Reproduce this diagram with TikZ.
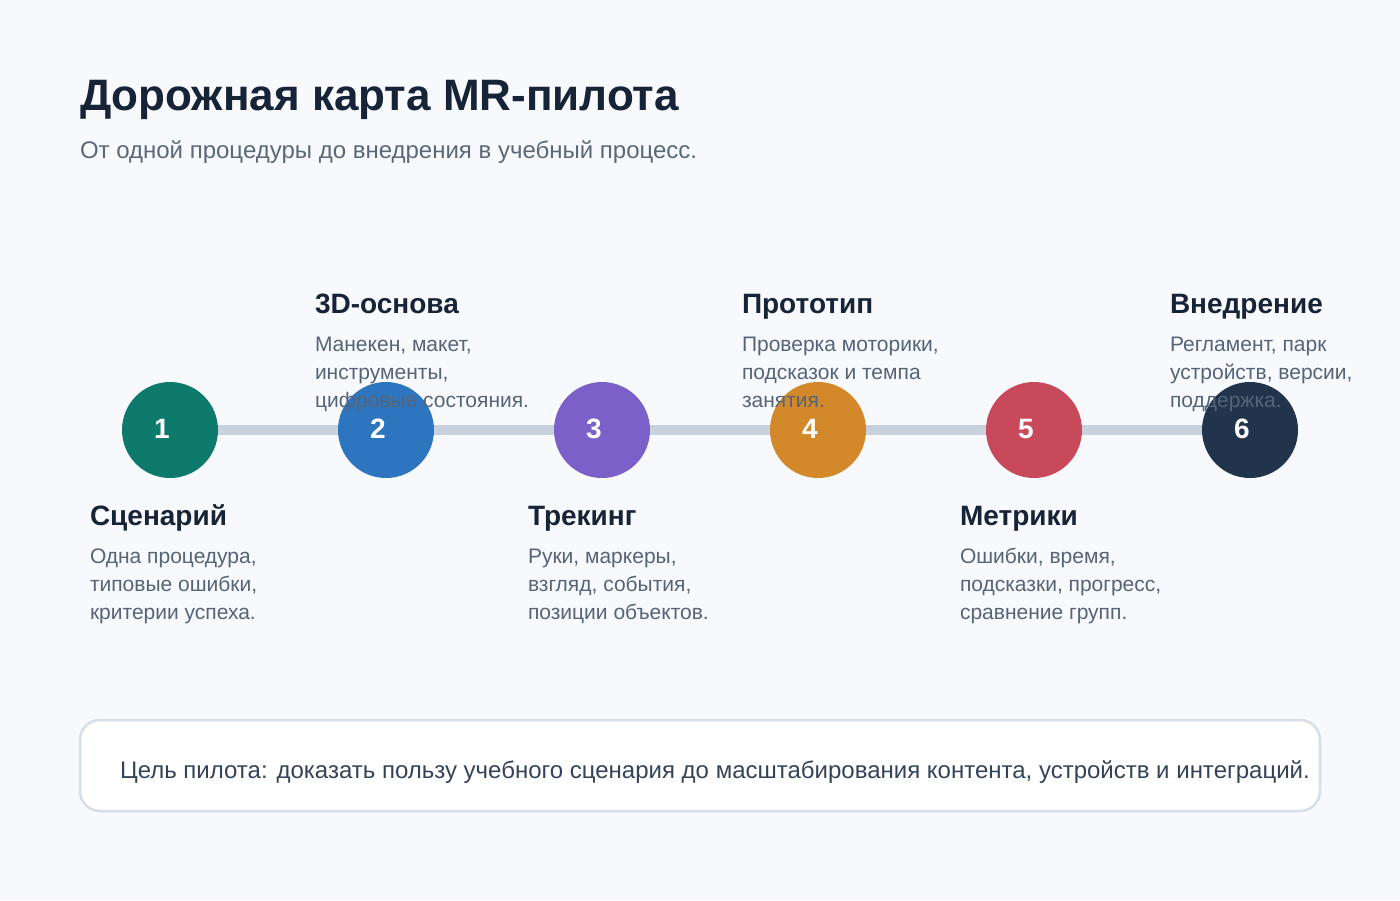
\documentclass[tikz,border=0pt]{standalone}
\usepackage{fontspec}
\setmainfont{Liberation Sans}
\definecolor{bg}{HTML}{F7F9FD}
\definecolor{ink}{HTML}{172336}
\definecolor{muted}{HTML}{5A6878}
\definecolor{desc}{HTML}{556477}
\definecolor{track}{HTML}{C8D2DE}
\definecolor{boxline}{HTML}{D6DEE8}
\definecolor{boxtext}{HTML}{334459}
\definecolor{cA}{HTML}{0E7A6C}
\definecolor{cB}{HTML}{2E75C0}
\definecolor{cC}{HTML}{7C60C9}
\definecolor{cD}{HTML}{D3892A}
\definecolor{cE}{HTML}{C84A5A}
\definecolor{cF}{HTML}{22344B}
\begin{document}
\begin{tikzpicture}[x=1pt,y=-1pt,
  txt/.style={anchor=base west,inner sep=0pt,outer sep=0pt},
  ttl/.style={txt,text=ink,font=\fontsize{28}{32}\selectfont\bfseries},
  dsc/.style={txt,text=desc,font=\fontsize{21}{28}\selectfont},
  dot/.style={circle,inner sep=0pt,minimum size=96pt,draw=none},
  num/.style={inner sep=0pt,text=white,font=\fontsize{28}{30}\selectfont\bfseries}]
\useasboundingbox[fill=bg] (0,0) rectangle (1400,900);
% title
\node[txt,text=ink,font=\fontsize{44}{48}\selectfont\bfseries] (title) at (80,110) {Дорожная карта MR-пилота};
\node[txt,text=muted,font=\fontsize{24}{28}\selectfont] (sub) at (80,158) {От одной процедуры до внедрения в учебный процесс.};
% track
\coordinate (p1) at (170,430);
\coordinate (p2) at (386,430);
\coordinate (p3) at (602,430);
\coordinate (p4) at (818,430);
\coordinate (p5) at (1034,430);
\coordinate (p6) at (1250,430);
\draw[track,line width=10pt] (p1) -- (p6);
\node[dot,fill=cA] (d1) at (p1) {};
\node[dot,fill=cB] (d2) at (p2) {};
\node[dot,fill=cC] (d3) at (p3) {};
\node[dot,fill=cD] (d4) at (p4) {};
\node[dot,fill=cE] (d5) at (p5) {};
\node[dot,fill=cF] (d6) at (p6) {};
\node[num] (n1) at (162,429) {1};
\node[num] (n2) at (378,429) {2};
\node[num] (n3) at (594,429) {3};
\node[num] (n4) at (810,429) {4};
\node[num] (n5) at (1026,429) {5};
\node[num] (n6) at (1242,429) {6};
% bottom labels
\node[ttl] (t1) at (90,525) {Сценарий};
\node[dsc] (t1a) at (90,563) {Одна процедура,};
\node[dsc] (t1b) at (90,591) {типовые ошибки,};
\node[dsc] (t1c) at (90,619) {критерии успеха.};
\node[ttl] (t3) at (528,525) {Трекинг};
\node[dsc] (t3a) at (528,563) {Руки, маркеры,};
\node[dsc] (t3b) at (528,591) {взгляд, события,};
\node[dsc] (t3c) at (528,619) {позиции объектов.};
\node[ttl] (t5) at (960,525) {Метрики};
\node[dsc] (t5a) at (960,563) {Ошибки, время,};
\node[dsc] (t5b) at (960,591) {подсказки, прогресс,};
\node[dsc] (t5c) at (960,619) {сравнение групп.};
% top labels
\node[ttl] (t2) at (315,313) {3D-основа};
\node[dsc] (t2a) at (315,351) {Манекен, макет,};
\node[dsc] (t2b) at (315,379) {инструменты,};
\node[dsc] (t2c) at (315,407) {цифровые состояния.};
\node[ttl] (t4) at (742,313) {Прототип};
\node[dsc] (t4a) at (742,351) {Проверка моторики,};
\node[dsc] (t4b) at (742,379) {подсказок и темпа};
\node[dsc] (t4c) at (742,407) {занятия.};
\node[ttl] (t6) at (1170,313) {Внедрение};
\node[dsc] (t6a) at (1170,351) {Регламент, парк};
\node[dsc] (t6b) at (1170,379) {устройств, версии,};
\node[dsc] (t6c) at (1170,407) {поддержка.};
% goal box
\draw[fill=white,draw=boxline,line width=2.5pt,rounded corners=20pt] (80,720) rectangle (1320,811);
\node[txt,text=boxtext,font=\fontsize{24}{28}\selectfont] (goal) at (120,778) {Цель пилота: доказать пользу учебного сценария до масштабирования контента, устройств и интеграций.};
\end{tikzpicture}
\end{document}
